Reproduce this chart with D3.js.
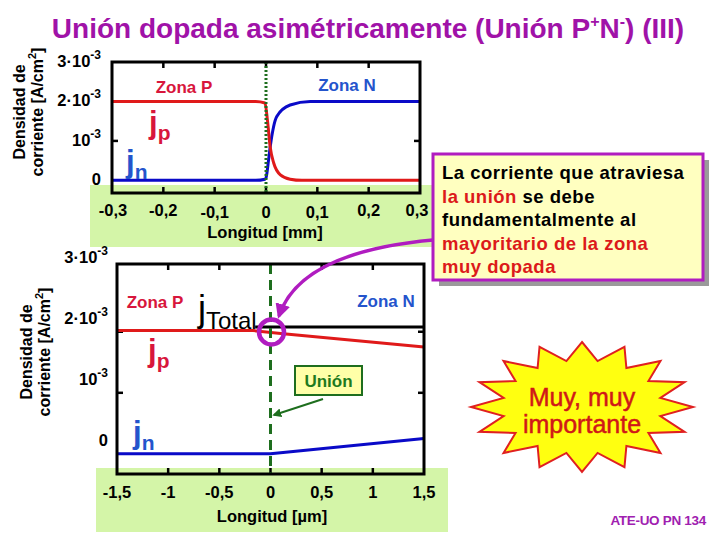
<!DOCTYPE html>
<html><head><meta charset="utf-8">
<script src="https://cdn.jsdelivr.net/npm/d3@7"></script>
<style>
html,body{margin:0;padding:0;background:#fff;}
svg{display:block;font-family:"Liberation Sans",Arial,sans-serif;}
</style></head>
<body>
<svg id="c" width="720" height="540"></svg>
<script>
// ---------- data ----------
const topXTicks = [-0.3, -0.2, -0.1, 0, 0.1, 0.2, 0.3];
const topXLabels = ["-0,3", "-0,2", "-0,1", "0", "0,1", "0,2", "0,3"];
const botXTicks = [-1.5, -1, -0.5, 0, 0.5, 1, 1.5];
const botXLabels = ["-1,5", "-1", "-0,5", "0", "0,5", "1", "1,5"];
const yTicks = [0, 1, 2, 3];                 // units of 1e-3 A/cm2
const yTickBase = ["0", "10", "2·10", "3·10"];
const yTickExp = ["", "-3", "-3", "-3"];

// top chart (Longitud in mm), current density in 1e-3 A/cm2
const topPosJp = [-0.3, -0.02, -0.002, 0.003, 0.008, 0.015, 0.028, 0.047, 0.07, 0.3];
const topJp    = [2.0, 2.0, 1.96, 1.5, 0.86, 0.44, 0.14, 0.03, 0.0, 0.0];
const topPosJn = [-0.3, -0.02, -0.002, 0.0, 0.005, 0.0083, 0.021, 0.047, 0.086, 0.3];
const topJn    = [0.0, 0.0, 0.03, 0.06, 0.52, 0.86, 1.62, 1.91, 2.0, 2.0];

// bottom chart (Longitud in µm)
const botPosJp = [-1.5, -0.17, 0.1, 1.5];
const botJp    = [2.02, 2.02, 1.97, 1.75];
const botPosJn = [-1.5, 0, 1.5];
const botJn    = [0.0, 0.0, 0.25];
const botPosJt = [-0.15, 1.5];
const botJt    = [2.08, 2.08];

// ---------- styles ----------
const RED = "#e01a1a", BLUE = "#0a0ac8", TXTRED = "#d8163c", TXTBLUE = "#2454cc";
const GREENBG = "#d4f5a8", DKGREEN = "#1e6e1e", MAG = "#b01cc0";

const svg = d3.select("#c");
const defs = svg.append("defs");
function marker(id, color, size){
  defs.append("marker").attr("id", id).attr("viewBox", "0 0 10 10").attr("refX", 8).attr("refY", 5)
    .attr("markerWidth", size).attr("markerHeight", size).attr("orient", "auto-start-reverse")
    .attr("markerUnits", "userSpaceOnUse")
    .append("path").attr("d", "M0,0 L10,5 L0,10 z").attr("fill", color);
}
marker("mg", DKGREEN, 9);
marker("mm", MAG, 15);

// Title
const title = svg.append("text").attr("x", 368).attr("y", 38).attr("text-anchor", "middle")
  .attr("font-size", 28).attr("font-weight", "bold").attr("fill", "#a012a8");
title.append("tspan").text("Unión dopada asimétricamente (Unión P");
title.append("tspan").text("+").attr("font-size", 16).attr("dy", -11);
title.append("tspan").text("N").attr("dy", 11);
title.append("tspan").text("-").attr("font-size", 16).attr("dy", -11);
title.append("tspan").text(") (III)").attr("dy", 11);

function yTitle(cx, cy){
  const g = svg.append("g").attr("transform", `translate(${cx},${cy}) rotate(-90)`);
  g.append("text").attr("x", 0).attr("y", -3).attr("text-anchor", "middle").attr("font-size", 16)
    .attr("font-weight", "bold").text("Densidad de");
  const t = g.append("text").attr("x", 0).attr("y", 15).attr("text-anchor", "middle").attr("font-size", 16)
    .attr("font-weight", "bold");
  t.append("tspan").text("corriente [A/cm");
  t.append("tspan").text("2").attr("font-size", 11).attr("dy", -7);
  t.append("tspan").text("]").attr("dy", 7);
}

function chart(o){
  const x = d3.scaleLinear().domain(o.xd).range(o.xr);
  const y = d3.scaleLinear().domain(o.yd).range(o.yr);
  const g = svg.append("g");
  g.append("rect").attr("x", o.bg[0]).attr("y", o.bg[1]).attr("width", o.bg[2]).attr("height", o.bg[3]).attr("fill", GREENBG);
  yTicks.forEach((v, i) => {
    const t = g.append("text").attr("x", o.ylabX).attr("y", y(v) + o.ylabDy).attr("text-anchor", "end")
      .attr("font-size", 16.5).attr("font-weight", "bold");
    t.append("tspan").text(yTickBase[i]);
    if (yTickExp[i]) t.append("tspan").text(yTickExp[i]).attr("font-size", 12).attr("dy", -8);
  });
  o.xt.forEach((v, i) => {
    g.append("text").attr("x", x(v) + (o.xlabShift ? o.xlabShift[i] : 0)).attr("y", o.xlabY + (o.xlabDy ? o.xlabDy[i] : 0))
      .attr("text-anchor", "middle").attr("font-size", 16.5).attr("font-weight", "bold").text(o.xl[i]);
  });
  g.append("text").attr("x", o.xtitleX).attr("y", o.xtitleY).attr("text-anchor", "middle")
    .attr("font-size", 16.5).attr("font-weight", "bold").text(o.xtitle);
  const x0 = x(o.xd[0]), x1 = x(o.xd[1]), y0 = y(o.yd[0]), y1 = y(o.yd[1]);
  o.xt.slice(1, -1).forEach(v => {
    g.append("line").attr("x1", x(v)).attr("x2", x(v)).attr("y1", y1).attr("y2", y1 + 6).attr("stroke", "#000").attr("stroke-width", 2.5);
    g.append("line").attr("x1", x(v)).attr("x2", x(v)).attr("y1", y0).attr("y2", y0 - 6).attr("stroke", "#000").attr("stroke-width", 2.5);
  });
  [1, 2].forEach(v => {
    g.append("line").attr("x1", x0).attr("x2", x0 + 6).attr("y1", y(v)).attr("y2", y(v)).attr("stroke", "#000").attr("stroke-width", 2.5);
    g.append("line").attr("x1", x1).attr("x2", x1 - 6).attr("y1", y(v)).attr("y2", y(v)).attr("stroke", "#000").attr("stroke-width", 2.5);
  });
  const line = d3.line().x(d => x(d[0])).y(d => y(d[1])).curve(o.curve);
  o.series.forEach(s => {
    g.append("path").datum(s.xs.map((xx, i) => [xx, s.ys[i]])).attr("d", line)
      .attr("fill", "none").attr("stroke", s.color).attr("stroke-width", 3).attr("stroke-linejoin", "round");
  });
  g.append("line").attr("x1", x(0)).attr("x2", x(0)).attr("y1", y1).attr("y2", y0)
    .attr("stroke", DKGREEN).attr("stroke-width", 3).attr("stroke-dasharray", o.dash);
  g.append("rect").attr("x", x0).attr("y", y1).attr("width", x1 - x0).attr("height", y0 - y1)
    .attr("fill", "none").attr("stroke", "#000").attr("stroke-width", 3);
  return {x, y, g};
}

function jLabel(gx, gy, sub, color, size, subSize, weight){
  const t = svg.append("text").attr("x", gx).attr("y", gy).attr("fill", color).attr("font-size", size).attr("font-weight", weight || "bold");
  t.append("tspan").text("j");
  t.append("tspan").text(sub).attr("font-size", subSize).attr("dy", size * 0.22);
  return t;
}
function zone(x, y, txt, color){
  svg.append("text").attr("x", x).attr("y", y).attr("text-anchor", "middle").attr("font-size", 17)
    .attr("font-weight", "bold").attr("fill", color).text(txt);
}

// ---------- top chart ----------
yTitle(28, 112);
const topChart = chart({
  xd: [-0.3, 0.3], xr: [112, 420], yd: [-0.32, 3], yr: [193, 62],
  bg: [90, 185, 343, 62], xt: topXTicks, xl: topXLabels,
  ylabX: 101, ylabDy: 5, xlabY: 216, xlabDy: [0, 0, 2, 2, 2, 0, 0], xlabShift: [1, 0, 0, 0, 0, 0, -3],
  xtitle: "Longitud  [mm]", xtitleX: 265, xtitleY: 238,
  curve: d3.curveMonotoneX, dash: "2,2",
  series: [
    {xs: topPosJn, ys: topJn, color: BLUE},
    {xs: topPosJp, ys: topJp, color: RED}
  ]
});
zone(184, 93, "Zona P", TXTRED);
zone(347, 91, "Zona N", TXTBLUE);
jLabel(149, 133, "p", TXTRED, 31, 21);
jLabel(126, 172, "n", TXTBLUE, 31, 21);

// ---------- bottom chart ----------
yTitle(35, 352);
const botChart = chart({
  xd: [-1.5, 1.5], xr: [117, 424], yd: [-0.33, 3.11], yr: [474, 264],
  bg: [96, 468, 352, 64], xt: botXTicks, xl: botXLabels,
  ylabX: 108, ylabDy: -8, xlabY: 498,
  xtitle: "Longitud  [µm]", xtitleX: 272, xtitleY: 522,
  curve: d3.curveLinear, dash: "10,6",
  series: [
    {xs: botPosJt, ys: botJt, color: "#000"},
    {xs: botPosJn, ys: botJn, color: BLUE},
    {xs: botPosJp, ys: botJp, color: RED}
  ]
});
zone(155, 308, "Zona P", TXTRED);
zone(386, 307, "Zona N", TXTBLUE);
jLabel(198, 321, "Total", "#000", 36, 24, "normal");
jLabel(148, 361, "p", TXTRED, 31, 21);
jLabel(133, 443, "n", TXTBLUE, 31, 21);

// Unión label with arrow
svg.append("rect").attr("x", 295).attr("y", 366).attr("width", 67).attr("height", 29)
  .attr("fill", "#ffffa8").attr("stroke", DKGREEN).attr("stroke-width", 2);
svg.append("text").attr("x", 328.5).attr("y", 387).attr("text-anchor", "middle").attr("font-size", 17)
  .attr("font-weight", "bold").attr("fill", "#1e7a1e").text("Unión");
svg.append("line").attr("x1", 323).attr("y1", 399).attr("x2", 274).attr("y2", 415)
  .attr("stroke", DKGREEN).attr("stroke-width", 2).attr("marker-end", "url(#mg)");

// magenta circle on junction
svg.append("circle").attr("cx", botChart.x(0) + 1).attr("cy", botChart.y(botJt[0]) + 5).attr("r", 12.5)
  .attr("fill", "none").attr("stroke", MAG).attr("stroke-width", 4.5);

// callout
const cb = {x: 433, y: 154, w: 270, h: 126};
svg.append("rect").attr("x", cb.x + 6).attr("y", cb.y + 6).attr("width", cb.w).attr("height", cb.h).attr("fill", "#9a9a9a");
svg.append("path").attr("d", "M433,240 Q300,252 279,316").attr("fill", "none").attr("stroke", MAG)
  .attr("stroke-width", 3.5).attr("marker-end", "url(#mm)");
svg.append("rect").attr("x", cb.x).attr("y", cb.y).attr("width", cb.w).attr("height", cb.h)
  .attr("fill", "#ffffc0").attr("stroke", MAG).attr("stroke-width", 3);
const calloutLines = [
  [["La corriente que atraviesa", "#000"]],
  [["la unión", "#dc1a1a"], [" se debe", "#000"]],
  [["fundamentalmente al", "#000"]],
  [["mayoritario de la zona", "#dc1a1a"]],
  [["muy dopada", "#dc1a1a"]]
];
calloutLines.forEach((ln, i) => {
  const t = svg.append("text").attr("x", 442).attr("y", 179 + i * 23.5).attr("font-size", 18.5)
    .attr("font-weight", "bold").attr("letter-spacing", 0.5);
  ln.forEach(p => t.append("tspan").text(p[0]).attr("fill", p[1]));
});

// starburst
const sc = {x: 582, y: 407, rx: 111, ry: 65, k: 0.72, n: 16};
const pts = d3.range(sc.n * 2).map(i => {
  const a = -Math.PI / 2 + i * Math.PI / sc.n;
  const f = i % 2 === 0 ? 1 : sc.k;
  return [sc.x + Math.cos(a) * sc.rx * f, sc.y + Math.sin(a) * sc.ry * f];
});
svg.append("polygon").attr("points", pts.map(p => p.join(",")).join(" "))
  .attr("fill", "#ffff10").attr("stroke", "#e02020").attr("stroke-width", 2).attr("stroke-linejoin", "miter");
svg.append("text").attr("x", 582).attr("y", 406).attr("text-anchor", "middle").attr("font-size", 25)
  .attr("fill", "#d01818").attr("stroke", "#d01818").attr("stroke-width", 0.5).text("Muy, muy");
svg.append("text").attr("x", 582).attr("y", 433).attr("text-anchor", "middle").attr("font-size", 25)
  .attr("fill", "#d01818").attr("stroke", "#d01818").attr("stroke-width", 0.5).text("importante");

svg.append("text").attr("x", 706).attr("y", 525).attr("text-anchor", "end").attr("font-size", 13.5)
  .attr("font-weight", "bold").attr("fill", "#a020b0").attr("letter-spacing", -0.3).text("ATE-UO PN 134");
</script>
</body></html>
